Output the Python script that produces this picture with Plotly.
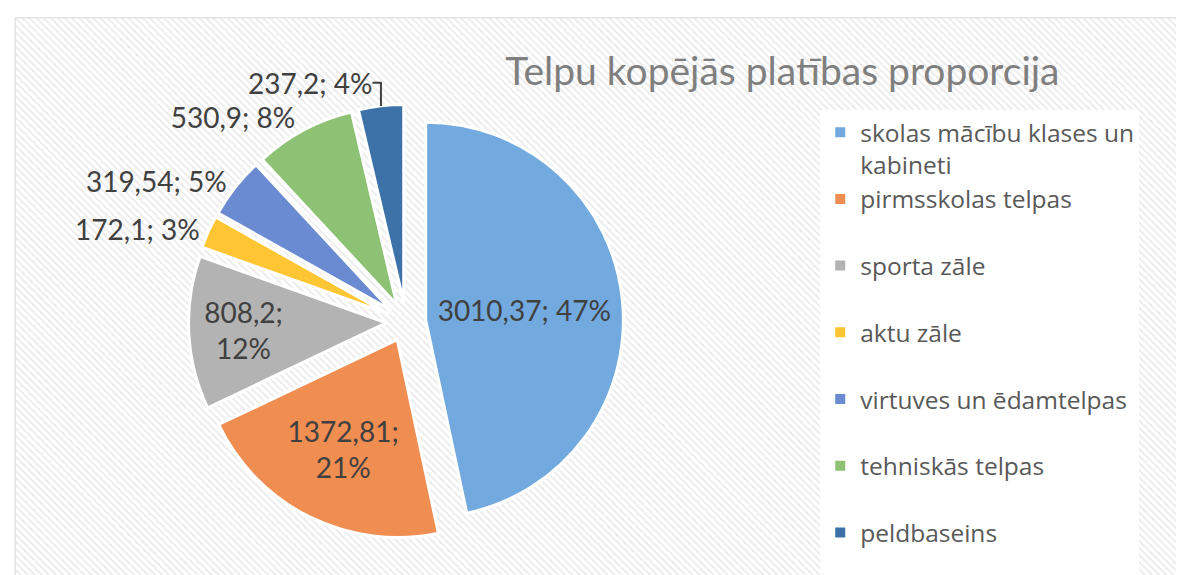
import plotly.graph_objects as go

labels = ['skolas mācību klases un<br>kabineti', 'pirmsskolas telpas', 'sporta zāle', 'aktu zāle',
          'virtuves un ēdamtelpas', 'tehniskās telpas', 'peldbaseins']
values = [3010.37, 1372.81, 808.2, 172.1, 319.54, 530.9, 237.2]
percents = [47, 21, 12, 3, 5, 8, 4]
colors = ['#72a9de', '#f08d50', '#b3b3b3', '#ffc533', '#6a8bd2', '#8dc174', '#3c72a8']
title = 'Telpu kopējās platības proporcija'

texts = []
for i, v in enumerate(values):
    num = str(v).replace('.', ',')
    sep = ';<br>' if i in (1, 2) else '; '
    texts.append(num + sep + '%d%%' % percents[i])

# pad each legend entry to two lines so the spacing matches
leg_labels = [l if '<br>' in l else l + '<br>&nbsp;' for l in labels]

fig = go.Figure()

# hatched chart background
fig.add_trace(go.Bar(x=[0], y=[1], width=1, hoverinfo='skip', showlegend=False,
                     marker=dict(color='white', line_width=0,
                                 pattern=dict(shape='\\', fgcolor='#d6d6d6', bgcolor='white',
                                              size=5, solidity=0.35))))

fig.add_trace(go.Pie(labels=leg_labels, values=values, text=texts, textinfo='text',
                     sort=False, direction='clockwise', rotation=0,
                     pull=[0.1] * len(values),
                     textposition=['inside', 'inside', 'inside', 'outside', 'outside', 'outside', 'outside'],
                     insidetextorientation='horizontal',
                     textfont=dict(family='Lato', size=28, color='#404040'),
                     marker=dict(colors=colors, line=dict(color='white', width=3)),
                     domain=dict(x=[0.1524, 0.5199], y=[0.0757, 0.8322])))

fig.update_layout(
    width=1184, height=575,
    margin=dict(l=0, r=0, t=0, b=0, autoexpand=False),
    paper_bgcolor='white',
    plot_bgcolor='white',
    xaxis=dict(domain=[0.006, 1], range=[-0.5, 0.5], visible=False, fixedrange=True),
    yaxis=dict(domain=[0, 0.983], range=[0, 1], visible=False, fixedrange=True),
    bargap=0,
    title=dict(text=title, x=0.654, xanchor='center', y=0.89, yanchor='middle',
               font=dict(family='Lato', size=39, color='#7f7f7f')),
    legend=dict(x=0.686, y=0.823, xanchor='left', yanchor='top', valign='top',
                bgcolor='white', borderwidth=0, maxheight=600,
                font=dict(family='Open Sans', size=24.5, color='#595959'),
                itemsizing='constant'),
    shapes=[dict(type='rect', xref='paper', yref='paper', x0=0.006, x1=1.01, y0=-0.01, y1=0.983,
                 line=dict(color='#d9d9d9', width=1), layer='above')],
)

fig.write_html('out.html')
